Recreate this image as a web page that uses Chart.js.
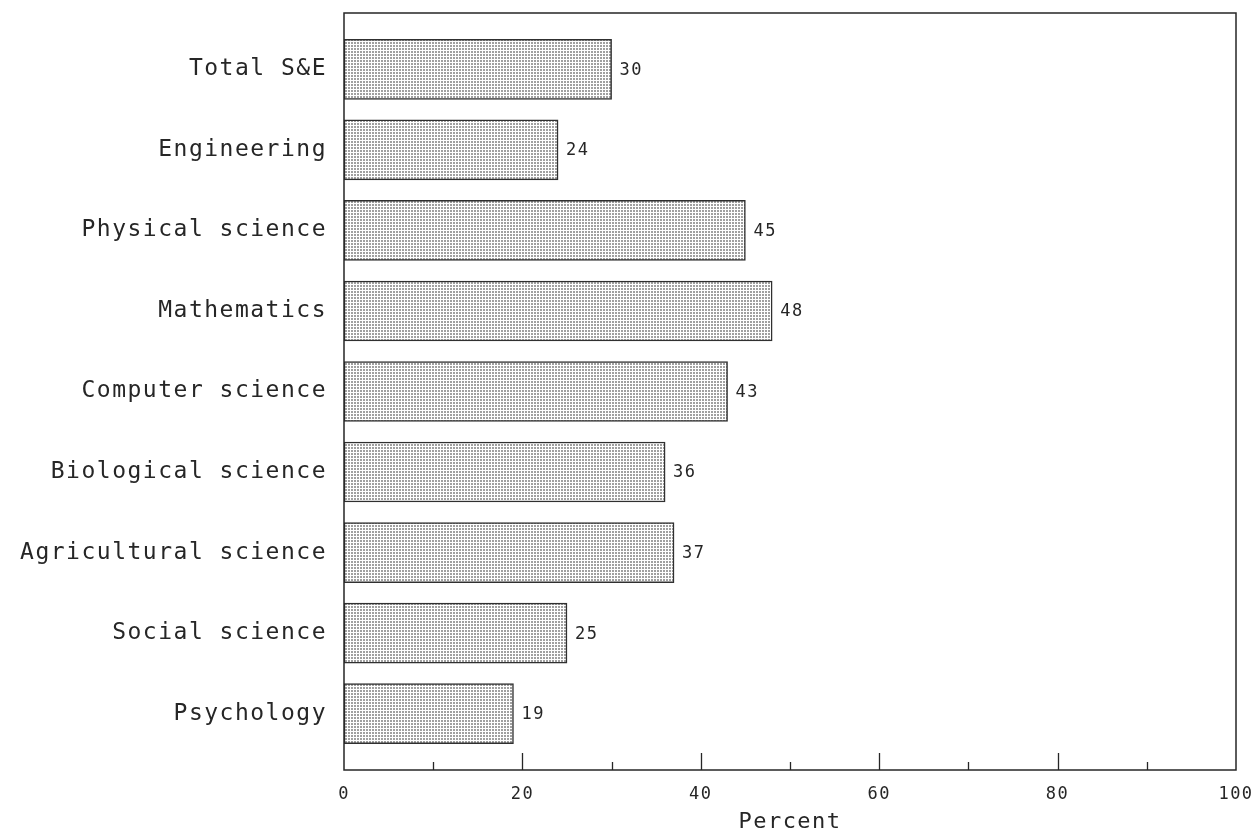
<!DOCTYPE html>
<html>
<head>
<meta charset="utf-8">
<script src="https://cdn.jsdelivr.net/npm/chart.js@4.4.1/dist/chart.umd.min.js"></script>
<style>
  html, body { margin: 0; padding: 0; background: #fff; }
  #wrap { width: 1256px; height: 835px; }
</style>
</head>
<body>
<div id="wrap"><canvas id="chart" width="1256" height="835"></canvas></div>
<script>
// data
const categories = ['Total S&E', 'Engineering', 'Physical science', 'Mathematics',
    'Computer science', 'Biological science', 'Agricultural science', 'Social science', 'Psychology'];
const percents = [30, 24, 45, 48, 43, 36, 37, 25, 19];
const xTicks = [0, 20, 40, 60, 80, 100];
const xMinorTicks = [10, 30, 50, 70, 90];

const INK = '#262626';
const MONO = "'DejaVu Sans Mono', 'Liberation Mono', monospace";

// stippled fill like the printed original
function makeStipple() {
    const pc = document.createElement('canvas');
    pc.width = 3; pc.height = 3;
    const p = pc.getContext('2d');
    p.fillStyle = '#ffffff';
    p.fillRect(0, 0, 3, 3);
    p.fillStyle = '#a0a0a0';
    p.fillRect(0, 0, 2, 2);
    return p.createPattern(pc, 'repeat');
}

const spacing = {
    id: 'spacing',
    beforeLayout(chart) { chart.ctx.letterSpacing = '1.5px'; },
    beforeDraw(chart) { chart.ctx.letterSpacing = '1.5px'; }
};

// box around the plot, inward ticks on the x axis, value labels
const frame = {
    id: 'frame',
    afterDatasetsDraw(chart) {
        const { ctx, chartArea: a, scales } = chart;
        const x = scales.x;
        ctx.save();
        ctx.strokeStyle = INK;
        ctx.lineWidth = 1.5;
        ctx.strokeRect(a.left, a.top, a.right - a.left, a.bottom - a.top);
        ctx.lineWidth = 1.3;
        ctx.beginPath();
        xTicks.slice(1, -1).forEach(v => {
            const px = Math.round(x.getPixelForValue(v)) + 0.5;
            ctx.moveTo(px, a.bottom);
            ctx.lineTo(px, a.bottom - 17);
        });
        xMinorTicks.forEach(v => {
            const px = Math.round(x.getPixelForValue(v)) + 0.5;
            ctx.moveTo(px, a.bottom);
            ctx.lineTo(px, a.bottom - 8);
        });
        ctx.stroke();

        ctx.fillStyle = INK;
        ctx.font = '17px ' + MONO;
        ctx.textAlign = 'left';
        ctx.textBaseline = 'middle';
        const meta = chart.getDatasetMeta(0);
        meta.data.forEach((bar, i) => {
            ctx.fillText(String(percents[i]), bar.x + 8, bar.y + 1);
        });
        ctx.restore();
    }
};

const ctx = document.getElementById('chart').getContext('2d');
const myChart = new Chart(ctx, {
    type: 'bar',
    data: {
        datasets: [{
            data: percents.map((v, i) => ({ x: v, y: i })),
            backgroundColor: makeStipple(),
            borderColor: '#303030',
            borderWidth: 1.5,
            borderSkipped: false,
            barThickness: 60
        }]
    },
    options: {
        indexAxis: 'y',
        responsive: false,
        animation: false,
        layout: { padding: { top: 13, right: 20, left: 0, bottom: 0 } },
        plugins: {
            legend: { display: false },
            tooltip: { enabled: false }
        },
        scales: {
            x: {
                type: 'linear',
                min: 0,
                max: 100,
                grid: { display: false, drawTicks: false },
                border: { display: false },
                ticks: {
                    stepSize: 20,
                    padding: 14,
                    color: INK,
                    font: { family: MONO, size: 17 }
                },
                title: {
                    display: true,
                    text: 'Percent',
                    color: INK,
                    font: { family: MONO, size: 22 },
                    padding: { top: 4, bottom: 0 }
                },
                afterFit(scale) {
                    scale.height = 65;
                    scale.paddingLeft = 0;
                    scale.paddingRight = 0;
                }
            },
            y: {
                type: 'linear',
                reverse: true,
                offset: false,
                min: -0.7,
                max: 8.7,
                grid: { display: false, drawTicks: false },
                border: { display: false },
                afterBuildTicks(scale) {
                    scale.ticks = categories.map((c, i) => ({ value: i }));
                },
                ticks: {
                    padding: 17,
                    color: INK,
                    font: { family: MONO, size: 23 },
                    callback(v) {
                        const i = Math.round(v);
                        return categories[i] || '';
                    }
                },
                afterFit(scale) {
                    scale.width = 344;
                    scale.paddingTop = 0;
                    scale.paddingBottom = 0;
                }
            }
        }
    },
    plugins: [spacing, frame]
});
</script>
</body>
</html>
